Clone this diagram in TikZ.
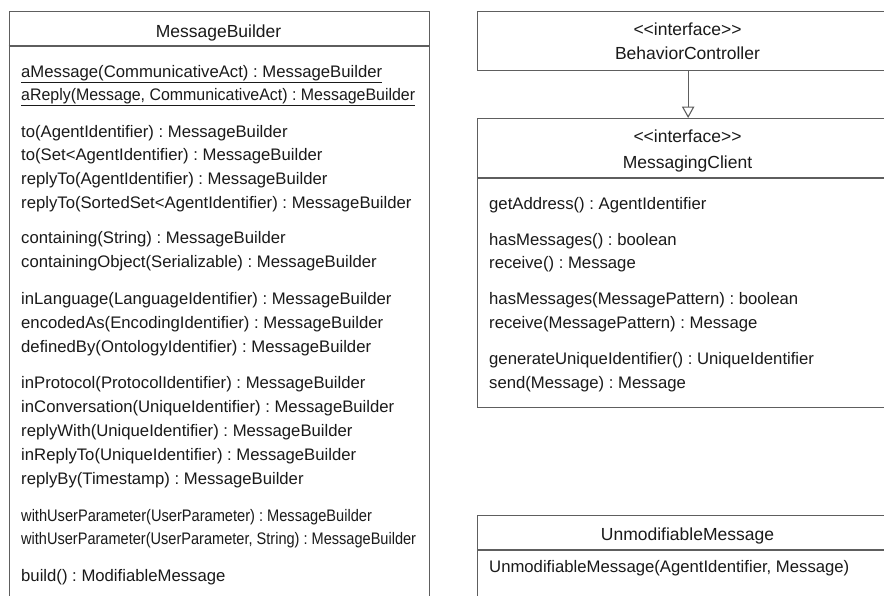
\documentclass[tikz,border=0pt]{standalone}
\usepackage{fontspec}
\setmainfont{Liberation Sans}
\usetikzlibrary{arrows.meta}
\definecolor{umlline}{HTML}{5E5E5E}
\definecolor{umltext}{HTML}{1A1A1A}
\newcommand{\stereo}[1]{{<}{<}#1{>}{>}}
\begin{document}
\frenchspacing
\begin{tikzpicture}[x=1pt,y=-1pt,
  umlbox/.style={draw=umlline, line width=1.3pt, fill=white, rectangle, inner sep=0pt, anchor=north west},
  divider/.style={draw=umlline, line width=1.3pt},
  title/.style={anchor=base, inner sep=0pt, text=umltext, font=\frenchspacing\fontsize{17.5}{21}\selectfont},
  member/.style={anchor=base west, inner sep=0pt, text=umltext, font=\frenchspacing\fontsize{16.7}{20}\selectfont},
  generalization/.style={draw=umlline, line width=1.1pt, -{Triangle[open, length=11.5pt, width=12.5pt, fill=white]}}
]
\useasboundingbox (0,0) rectangle (884,595);
\clip (0,0) rectangle (884,595);

% class boxes
\node[umlbox, minimum width=420.5pt, minimum height=600pt] (mb) at (8.5,11) {};
\node[umlbox, minimum width=421pt, minimum height=59pt] (bc) at (477,11) {};
\node[umlbox, minimum width=421pt, minimum height=289pt] (mc) at (477,118) {};
\node[umlbox, minimum width=421pt, minimum height=100pt] (um) at (477,515) {};

% compartment dividers
\draw[divider] (mb.west |- 0,46) -- (mb.east |- 0,46);
\draw[divider] (mc.west |- 0,178) -- (mc.east |- 0,178);
\draw[divider] (um.west |- 0,550) -- (um.east |- 0,550);

% generalization
\draw[generalization] (bc.south) -- (mc.north);

% MessageBuilder
\node[title] (mbt) at (218.5,37) {MessageBuilder};
\node[member] (mb1) at (21,77.5) {\underline{aMessage(CommunicativeAct) : MessageBuilder}};
\node[member] (mb2) at (21,100) {\scalebox{0.954}[1]{\underline{aReply(Message, CommunicativeAct) : MessageBuilder}}};
\node[member] (mb3) at (21,137) {to(AgentIdentifier) : MessageBuilder};
\node[member] (mb4) at (21,160.5) {to(Set<AgentIdentifier) : MessageBuilder};
\node[member] (mb5) at (21,184) {replyTo(AgentIdentifier) : MessageBuilder};
\node[member] (mb6) at (21,208) {replyTo(SortedSet<AgentIdentifier) : MessageBuilder};
\node[member] (mb7) at (21,243.5) {containing(String) : MessageBuilder};
\node[member] (mb8) at (21,267.5) {containingObject(Serializable) : MessageBuilder};
\node[member] (mb9) at (21,304) {inLanguage(LanguageIdentifier) : MessageBuilder};
\node[member] (mb10) at (21,328) {encodedAs(EncodingIdentifier) : MessageBuilder};
\node[member] (mb11) at (21,352) {definedBy(OntologyIdentifier) : MessageBuilder};
\node[member] (mb12) at (21,388) {inProtocol(ProtocolIdentifier) : MessageBuilder};
\node[member] (mb13) at (21,412) {inConversation(UniqueIdentifier) : MessageBuilder};
\node[member] (mb14) at (21,436) {replyWith(UniqueIdentifier) : MessageBuilder};
\node[member] (mb15) at (21,460) {inReplyTo(UniqueIdentifier) : MessageBuilder};
\node[member] (mb16) at (21,484) {replyBy(Timestamp) : MessageBuilder};
\node[member] (mb17) at (21,521) {\scalebox{0.875}[1]{withUserParameter(UserParameter) : MessageBuilder}};
\node[member] (mb18) at (21,544) {\scalebox{0.872}[1]{withUserParameter(UserParameter, String) : MessageBuilder}};
\node[member] (mb19) at (21,581) {build() : ModifiableMessage};

% BehaviorController
\node[title] (bcs) at (687.5,35) {\stereo{interface}};
\node[title] (bct) at (687.5,59) {BehaviorController};

% MessagingClient
\node[title] (mcs) at (687.5,142) {\stereo{interface}};
\node[title] (mct) at (687.5,168) {MessagingClient};
\node[member] (mc1) at (489,209) {getAddress() : AgentIdentifier};
\node[member] (mc2) at (489,245) {hasMessages() : boolean};
\node[member] (mc3) at (489,268.5) {receive() : Message};
\node[member] (mc4) at (489,304.5) {hasMessages(MessagePattern) : boolean};
\node[member] (mc5) at (489,328.5) {receive(MessagePattern) : Message};
\node[member] (mc6) at (489,364.5) {generateUniqueIdentifier() : UniqueIdentifier};
\node[member] (mc7) at (489,388.5) {send(Message) : Message};

% UnmodifiableMessage
\node[title] (umt) at (687.5,540) {UnmodifiableMessage};
\node[member] (um1) at (489,572.5) {UnmodifiableMessage(AgentIdentifier, Message)};
\end{tikzpicture}
\end{document}
